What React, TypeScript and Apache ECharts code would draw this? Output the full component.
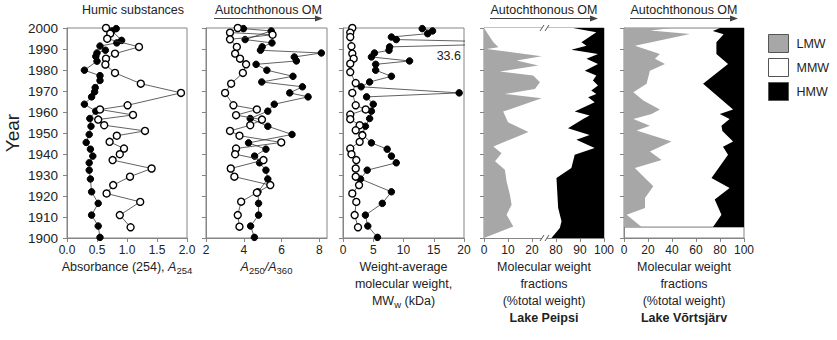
import React, { useEffect, useRef } from "react";
import * as echarts from "echarts";

// ---- shared year range -------------------------------------------------
const YEAR_MIN = 1900;
const YEAR_MAX = 2000;
const YEAR_TICKS = 10;

// ---- panel 1: absorbance A254 -------------------------------------------
const ABS_FILLED_YEARS = [1999.7, 1998.6, 1994.1, 1992.9, 1991.4, 1989.4, 1988.1, 1986.5, 1984.2, 1979.9, 1977.3, 1975.0, 1971.6, 1969.6, 1967.2, 1963.7, 1960.4, 1956.9, 1953.2, 1949.3, 1945.5, 1942.3, 1939.0, 1935.8, 1932.3, 1928.1, 1922.0, 1916.5, 1910.9, 1905.7, 1900.3];
const ABS_FILLED = [0.82, 0.75, 0.91, 0.83, 0.55, 0.64, 0.5, 0.48, 0.5, 0.29, 0.55, 0.55, 0.47, 0.46, 0.41, 0.29, 0.48, 0.38, 0.4, 0.37, 0.32, 0.39, 0.43, 0.37, 0.37, 0.39, 0.41, 0.52, 0.41, 0.52, 0.55];
const ABS_OPEN_YEARS = [2000.0, 1997.3, 1994.9, 1991.0, 1987.8, 1985.4, 1982.6, 1978.6, 1973.5, 1969.1, 1963.2, 1961.2, 1958.6, 1956.4, 1953.7, 1951.0, 1948.7, 1945.8, 1942.6, 1939.9, 1937.1, 1933.1, 1929.2, 1925.2, 1921.2, 1917.2, 1910.9, 1905.1];
const ABS_OPEN = [0.65, 0.72, 0.67, 1.2, 0.8, 0.65, 0.64, 0.8, 1.23, 1.9, 1.01, 0.55, 1.1, 0.52, 0.62, 1.3, 0.83, 0.71, 0.95, 0.88, 0.76, 1.41, 1.05, 0.77, 0.66, 1.22, 0.88, 1.06];

// ---- panel 2: A250/A360 ---------------------------------------------------
const RATIO_FILLED_YEARS = [1999.7, 1998.6, 1994.5, 1992.9, 1991.0, 1989.4, 1988.1, 1986.2, 1984.3, 1982.7, 1979.9, 1977.0, 1974.3, 1972.0, 1969.1, 1967.2, 1963.7, 1960.4, 1956.9, 1953.2, 1949.3, 1945.3, 1942.3, 1939.0, 1935.8, 1932.3, 1928.1, 1922.0, 1916.5, 1910.9, 1905.7, 1900.3];
const RATIO_FILLED = [3.98, 5.45, 4.07, 5.49, 4.97, 4.88, 8.1, 6.67, 6.78, 4.65, 5.22, 6.6, 4.95, 7.1, 6.43, 7.4, 5.61, 5.27, 4.34, 5.27, 6.55, 4.25, 5.17, 4.57, 4.83, 5.17, 5.27, 4.75, 4.78, 4.78, 4.36, 4.56];
const RATIO_OPEN_YEARS = [2000.0, 1997.8, 1996.8, 1994.6, 1991.0, 1987.8, 1985.4, 1982.7, 1978.6, 1973.5, 1969.1, 1963.2, 1961.2, 1958.5, 1956.4, 1953.7, 1951.0, 1948.7, 1945.5, 1942.6, 1939.9, 1937.1, 1933.1, 1929.2, 1925.2, 1921.6, 1917.3, 1910.9, 1905.4];
const RATIO_OPEN = [3.68, 3.27, 5.52, 3.27, 3.63, 3.54, 3.8, 4.12, 3.95, 3.33, 3.01, 3.45, 4.69, 3.59, 4.96, 4.34, 3.27, 3.77, 5.98, 3.59, 3.54, 5.04, 3.31, 3.5, 5.4, 4.69, 3.86, 3.68, 3.77];

// ---- panel 3: weight-average molecular weight (kDa) ----------------------
const MW_FILLED_YEARS = [1999.7, 1998.6, 1997.3, 1995.7, 1994.5, 1992.9, 1991.0, 1989.4, 1988.1, 1986.2, 1984.3, 1982.7, 1979.9, 1977.0, 1974.3, 1972.0, 1969.1, 1967.2, 1963.7, 1960.4, 1956.9, 1953.2, 1949.3, 1945.3, 1942.3, 1939.0, 1935.8, 1932.3, 1928.1, 1922.0, 1916.5, 1910.9, 1905.7, 1900.3];
const MW_FILLED = [13.1, 14.8, 14.0, 8.0, 8.8, 33.6, 7.7, 7.6, 5.2, 4.7, 11.0, 5.4, 5.4, 8.0, 4.4, 3.0, 19.2, 3.9, 5.0, 4.7, 4.4, 3.7, 3.2, 4.7, 7.3, 8.0, 8.8, 4.0, 2.9, 8.0, 6.5, 3.7, 4.1, 5.7];
const MW_OPEN_YEARS = [2000.0, 1997.8, 1995.7, 1991.3, 1987.8, 1985.4, 1983.0, 1979.0, 1973.8, 1969.1, 1963.2, 1961.2, 1958.8, 1956.6, 1953.7, 1951.3, 1948.9, 1945.8, 1942.6, 1939.9, 1937.1, 1933.1, 1929.2, 1925.2, 1921.2, 1917.2, 1910.9, 1905.1];
const MW_OPEN = [1.54, 1.2, 1.2, 1.4, 1.54, 1.76, 1.2, 1.2, 2.1, 1.54, 2.1, 3.75, 1.2, 1.2, 2.75, 2.1, 3.2, 2.75, 1.2, 1.4, 2.2, 2.1, 2.1, 2.65, 1.54, 2.2, 1.93, 2.48];

// ---- panel 4: Lake Peipsi molecular weight fractions (%) -----------------
const PEIPSI_LMW_YEARS = [2000, 1993.2, 1990.8, 1990.0, 1986.5, 1984.5, 1982.1, 1979.3, 1977.4, 1974.2, 1971.0, 1968.6, 1966.6, 1960.2, 1955.1, 1950.5, 1943.6, 1940.4, 1936.5, 1932.5, 1927.0, 1920.6, 1915.8, 1911.1, 1905.5, 1900];
const PEIPSI_LMW = [0, 3.9, 6.0, 1.1, 24, 13.6, 22.6, 6.6, 20.5, 23.3, 21.2, 8.7, 24, 8, 10, 18.5, 3.9, 7.3, 4.6, 8.7, 9.4, 10.8, 11.5, 9.4, 12.2, 0];
const PEIPSI_HMW_YEARS = [2000, 1998.0, 1993.2, 1991.6, 1989.7, 1987.6, 1985.3, 1982.9, 1979.7, 1977.4, 1975.0, 1972.6, 1970.2, 1968.6, 1967.0, 1964.7, 1960.2, 1958.3, 1956.7, 1952.3, 1949.1, 1946.8, 1942.8, 1939.6, 1933.3, 1928.6, 1914.3, 1908.0, 1904.8, 1900];
const PEIPSI_HMW = [12.9, 3.2, 9.4, 7.3, 13.6, 2.5, 7.3, 2.5, 8, 3.2, 4.6, 2.5, 5.3, 3.2, 6.6, 3.9, 12.2, 6, 8.7, 15, 6, 11.5, 3.9, 12.2, 13.6, 19.8, 19.1, 17.7, 18.4, 21.9];
// the Peipsi axis is broken: 0–25 % on the left, 75–100 % on the right
const PEIPSI_BREAK_LOW = 25;
const PEIPSI_BREAK_HIGH = 75;
const PEIPSI_TICKS = [0, 10, 20, 80, 90, 100];

// ---- panel 5: Lake Võrtsjärv molecular weight fractions (%) --------------
const VORTS_LMW_YEARS = [2000, 1998.8, 1997.2, 1991.6, 1987.6, 1985.3, 1982.9, 1979.7, 1973.4, 1969.4, 1965.5, 1961.2, 1959.1, 1956.7, 1953.5, 1951.2, 1945.9, 1941.2, 1937.2, 1933.3, 1924.6, 1919.0, 1914.3, 1911.1, 1905.2];
const VORTS_LMW = [40, 22, 55, 9.1, 29.9, 25.8, 34.1, 21.6, 18.8, 7.8, 16.1, 29.9, 23, 7.8, 21.6, 10.5, 39.6, 21.6, 31.3, 9.1, 24.4, 17.5, 17.5, 2.2, 14.7];
const VORTS_HMW_YEARS = [2000, 1998.6, 1997.0, 1993.2, 1987.6, 1982.9, 1973.4, 1961.2, 1959.1, 1956.7, 1953.5, 1951.0, 1945.9, 1943.5, 1939.6, 1928.6, 1923.8, 1918.3, 1911.1, 1905.2];
const VORTS_HMW = [20, 26, 17, 23, 23, 13.3, 34.1, 9.1, 20.2, 12, 18.8, 18, 9.1, 17.5, 13.3, 27.1, 12, 24.4, 18.8, 25.8];

const FRACTIONS = ["LMW", "MMW", "HMW"];
const FRACTION_COLORS = ["#a7a7a7", "#ffffff", "#000000"];

// ---- styling ----------------------------------------------------------------
const FONT = "'Liberation Sans', Arial, Helvetica, sans-serif";
const TEXT = "#222";
const FRAME = "#858585";

const GRIDS = [
  { left: 67, width: 120 },
  { left: 206, width: 121 },
  { left: 343, width: 121 },
  { left: 484, width: 120 },
  { left: 624, width: 120 },
];
const GRID_TOP = 28;
const GRID_BOTTOM = 102;

const zip = (xs: number[], ys: number[]) => xs.map((x, i) => [x, ys[i]]);

const richName = {
  n: { fontSize: 12.5, color: TEXT, lineHeight: 17, fontFamily: FONT },
  i: { fontSize: 12.5, color: TEXT, lineHeight: 17, fontStyle: "italic", fontFamily: FONT },
  s: { fontSize: 9.5, color: TEXT, padding: [7, 0, 0, 0], fontFamily: FONT },
  b: { fontSize: 12.5, color: TEXT, lineHeight: 17, fontWeight: "bold", fontFamily: FONT },
};

function xAxisBase(idx: number, extra: any) {
  return {
    type: "value",
    gridIndex: idx,
    axisLine: { show: true, onZero: false, lineStyle: { color: FRAME, width: 1 } },
    axisTick: { show: true, length: 4, lineStyle: { color: FRAME } },
    splitLine: { show: false },
    axisLabel: { color: TEXT, fontSize: 12, margin: 6, fontFamily: FONT },
    nameLocation: "middle",
    nameGap: 20,
    nameTextStyle: { rich: richName },
    ...extra,
  };
}

function yAxisBase(idx: number) {
  return {
    type: "value",
    gridIndex: idx,
    min: YEAR_MIN,
    max: YEAR_MAX,
    interval: YEAR_TICKS,
    axisLine: { show: true, onZero: false, lineStyle: { color: FRAME, width: 1 } },
    axisTick: { show: true, length: 4, lineStyle: { color: FRAME } },
    splitLine: { show: false },
    axisLabel: {
      show: idx === 0,
      color: TEXT,
      fontSize: 13.5,
      margin: 9,
      fontFamily: FONT,
      formatter: (v: number) => String(v),
    },
    ...(idx === 0
      ? {
          name: "Year",
          nameLocation: "middle",
          nameGap: 45,
          nameTextStyle: { fontSize: 19, color: TEXT, fontFamily: FONT },
        }
      : {}),
  };
}

function pointSeries(idx: number, xs: number[], years: number[], filled: boolean) {
  return {
    type: "line",
    xAxisIndex: idx,
    yAxisIndex: idx,
    data: zip(xs, years),
    symbol: "circle",
    symbolSize: filled ? 6.5 : 7,
    showSymbol: true,
    clip: true,
    silent: true,
    lineStyle: { color: "#3a3a3a", width: 0.8 },
    itemStyle: filled
      ? { color: "#000", borderColor: "#000", borderWidth: 1 }
      : { color: "#fff", borderColor: "#000", borderWidth: 1.4 },
    z: filled ? 3 : 4,
  };
}

function polygonSeries(idx: number, name: string, pts: number[][], fill: string, stroke?: string) {
  return {
    type: "custom",
    name,
    xAxisIndex: idx,
    yAxisIndex: idx,
    data: pts,
    encode: { x: 0, y: 1 },
    clip: true,
    silent: true,
    itemStyle: { color: fill, borderColor: "#555", borderWidth: 1 },
    renderItem: (params: any, api: any) => {
      if (params.dataIndex !== 0) return null;
      const points = pts.map((p) => api.coord(p));
      return {
        type: "polygon",
        shape: { points },
        style: { fill, stroke: stroke || "none", lineWidth: 1 },
      };
    },
    z: 1,
  };
}

// Peipsi broken axis: map a percentage onto the compressed 0–50 scale
const peipsiPos = (pct: number) => (pct <= PEIPSI_BREAK_LOW ? pct : pct - (PEIPSI_BREAK_HIGH - PEIPSI_BREAK_LOW));
const peipsiLabel = (pos: number) => (pos <= PEIPSI_BREAK_LOW ? pos : pos + (PEIPSI_BREAK_HIGH - PEIPSI_BREAK_LOW));

function buildOption() {
  const peipsiMax = peipsiPos(100);

  // Lake Peipsi polygons
  const pLmw = [[0, YEAR_MAX], ...zip(PEIPSI_LMW, PEIPSI_LMW_YEARS), [0, YEAR_MIN]];
  const pHmw = [
    ...PEIPSI_HMW.map((h, i) => [peipsiPos(100 - h), PEIPSI_HMW_YEARS[i]]),
    [peipsiMax, YEAR_MIN],
    [peipsiMax, YEAR_MAX],
  ];
  const pMmw = [[0, YEAR_MAX], [peipsiMax, YEAR_MAX], [peipsiMax, YEAR_MIN], [0, YEAR_MIN]];

  // Lake Võrtsjärv polygons
  const vTop = VORTS_LMW_YEARS[0];
  const vBottom = VORTS_LMW_YEARS[VORTS_LMW_YEARS.length - 1];
  const vLmw = [[0, vTop], ...zip(VORTS_LMW, VORTS_LMW_YEARS), [0, vBottom]];
  const vHmw = [
    ...VORTS_HMW.map((h, i) => [100 - h, VORTS_HMW_YEARS[i]]),
    [100, VORTS_HMW_YEARS[VORTS_HMW_YEARS.length - 1]],
    [100, VORTS_HMW_YEARS[0]],
  ];
  const vMmw = [[0, vTop], [100, vTop], [100, vBottom], [0, vBottom]];

  return {
    animation: false,
    backgroundColor: "#fff",
    textStyle: { fontFamily: FONT, color: TEXT },
    grid: GRIDS.map((g) => ({
      left: g.left,
      width: g.width,
      top: GRID_TOP,
      bottom: GRID_BOTTOM,
      show: true,
      borderColor: FRAME,
      borderWidth: 1,
      backgroundColor: "transparent",
    })),
    xAxis: [
      xAxisBase(0, {
        min: 0,
        max: 2,
        interval: 0.5,
        axisLabel: { color: TEXT, fontSize: 12, margin: 6, fontFamily: FONT, formatter: (v: number) => v.toFixed(1) },
        name: "{n|Absorbance (254), }{i|A}{s|254}",
      }),
      xAxisBase(1, {
        min: 2,
        max: 8.4,
        axisTick: { show: true, length: 4, lineStyle: { color: FRAME }, customValues: [2, 4, 6, 8] },
        axisLabel: { color: TEXT, fontSize: 12, margin: 6, fontFamily: FONT, customValues: [2, 4, 6, 8] },
        name: "{i|A}{s|250}{i|/A}{s|360}",
      }),
      xAxisBase(2, {
        min: 0,
        max: 20,
        interval: 5,
        name: "{n|Weight-average}\n{n|molecular weight,}\n{n|MW}{s|w}{n| (kDa)}",
      }),
      xAxisBase(3, {
        min: 0,
        max: peipsiMax,
        axisTick: { show: true, length: 4, lineStyle: { color: FRAME }, customValues: PEIPSI_TICKS.map(peipsiPos) },
        axisLabel: {
          color: TEXT,
          fontSize: 12,
          margin: 6,
          fontFamily: FONT,
          customValues: PEIPSI_TICKS.map(peipsiPos),
          formatter: (v: number) => String(peipsiLabel(v)),
        },
        name: "{n|Molecular weight}\n{n|fractions}\n{n|(%total weight)}\n{b|Lake Peipsi}",
      }),
      xAxisBase(4, {
        min: 0,
        max: 100,
        interval: 20,
        name: "{n|Molecular weight}\n{n|fractions}\n{n|(%total weight)}\n{b|Lake Võrtsjärv}",
      }),
    ],
    yAxis: GRIDS.map((_, i) => yAxisBase(i)),
    legend: {
      orient: "vertical",
      left: 763,
      top: 29,
      itemWidth: 20,
      itemHeight: 18,
      itemGap: 5,
      selectedMode: false,
      icon: "rect",
      textStyle: { fontSize: 12.5, color: TEXT, fontFamily: FONT, padding: [0, 0, 0, 3] },
      data: FRACTIONS.map((name, i) => ({
        name,
        icon: "rect",
        itemStyle: { color: FRACTION_COLORS[i], borderColor: "#555", borderWidth: 1 },
      })),
    },
    series: [
      pointSeries(0, ABS_FILLED, ABS_FILLED_YEARS, true),
      pointSeries(0, ABS_OPEN, ABS_OPEN_YEARS, false),
      pointSeries(1, RATIO_FILLED, RATIO_FILLED_YEARS, true),
      pointSeries(1, RATIO_OPEN, RATIO_OPEN_YEARS, false),
      pointSeries(2, MW_FILLED, MW_FILLED_YEARS, true),
      pointSeries(2, MW_OPEN, MW_OPEN_YEARS, false),
      polygonSeries(3, "MMW", pMmw, FRACTION_COLORS[1]),
      polygonSeries(3, "LMW", pLmw, FRACTION_COLORS[0]),
      polygonSeries(3, "HMW", pHmw, FRACTION_COLORS[2]),
      polygonSeries(4, "MMW", vMmw, FRACTION_COLORS[1], "#7a7a7a"),
      polygonSeries(4, "LMW", vLmw, FRACTION_COLORS[0]),
      polygonSeries(4, "HMW", vHmw, FRACTION_COLORS[2]),
    ],
  };
}

function arrowTitle(id: string, cx: number, x0: number, x1: number) {
  return [
    {
      id: id + "-t",
      type: "text",
      x: cx,
      y: 10,
      style: { text: "Autochthonous OM", fontSize: 12.5, fill: TEXT, fontFamily: FONT, align: "center", verticalAlign: "middle" },
    },
    {
      id: id + "-l",
      type: "line",
      shape: { x1: x0, y1: 18.5, x2: x1 - 6, y2: 18.5 },
      style: { stroke: "#444", lineWidth: 1.2 },
    },
    {
      id: id + "-h",
      type: "polygon",
      shape: { points: [[x1 - 8, 15.5], [x1, 18.5], [x1 - 8, 21.5]] },
      style: { fill: "#444" },
    },
  ];
}

export default function App() {
  const ref = useRef<HTMLDivElement>(null);

  useEffect(() => {
    if (!ref.current) return;
    const chart = echarts.init(ref.current, undefined, { renderer: "svg" });
    chart.setOption(buildOption());

    // break marks on the Peipsi axis, placed through the axis scale
    const bx = chart.convertToPixel({ xAxisIndex: 3 }, peipsiPos(PEIPSI_BREAK_LOW)) as number;
    const yTop = chart.convertToPixel({ yAxisIndex: 3 }, YEAR_MAX) as number;
    const yBot = chart.convertToPixel({ yAxisIndex: 3 }, YEAR_MIN) as number;
    const breakMark = (id: string, y: number) => [
      { id: id + "-gap", type: "rect", shape: { x: bx - 2, y: y - 2, width: 5, height: 4 }, style: { fill: "#fff" }, z: 50 },
      { id: id + "-a", type: "line", shape: { x1: bx - 4, y1: y + 3, x2: bx, y2: y - 3 }, style: { stroke: "#555", lineWidth: 1 }, z: 51 },
      { id: id + "-b", type: "line", shape: { x1: bx + 1, y1: y + 3, x2: bx + 5, y2: y - 3 }, style: { stroke: "#555", lineWidth: 1 }, z: 51 },
    ];

    // value label for the off-scale MWw point
    const offIdx = MW_FILLED.findIndex((v) => v > 20);
    const [lx, ly] = chart.convertToPixel({ xAxisIndex: 2, yAxisIndex: 2 }, [20, MW_FILLED_YEARS[offIdx] - 6]) as number[];

    chart.setOption({
      graphic: [
        {
          id: "humic",
          type: "text",
          x: 133,
          y: 10,
          style: { text: "Humic substances", fontSize: 12.5, fill: TEXT, fontFamily: FONT, align: "center", verticalAlign: "middle" },
        },
        ...arrowTitle("a2", 268.5, 214, 323),
        ...arrowTitle("a4", 544, 490, 598),
        ...arrowTitle("a5", 684, 630, 738),
        ...breakMark("bt", yTop),
        ...breakMark("bb", yBot),
        {
          id: "mwlabel",
          type: "text",
          x: lx - 3,
          y: ly,
          style: { text: MW_FILLED[offIdx].toFixed(1), fontSize: 12.5, fill: TEXT, fontFamily: FONT, align: "right", verticalAlign: "middle" },
          z: 60,
        },
      ],
    });

    return () => chart.dispose();
  }, []);

  return (
    <div
      ref={ref}
      style={{ position: "fixed", left: 0, top: 0, width: 837, height: 340, background: "#fff" }}
    />
  );
}
